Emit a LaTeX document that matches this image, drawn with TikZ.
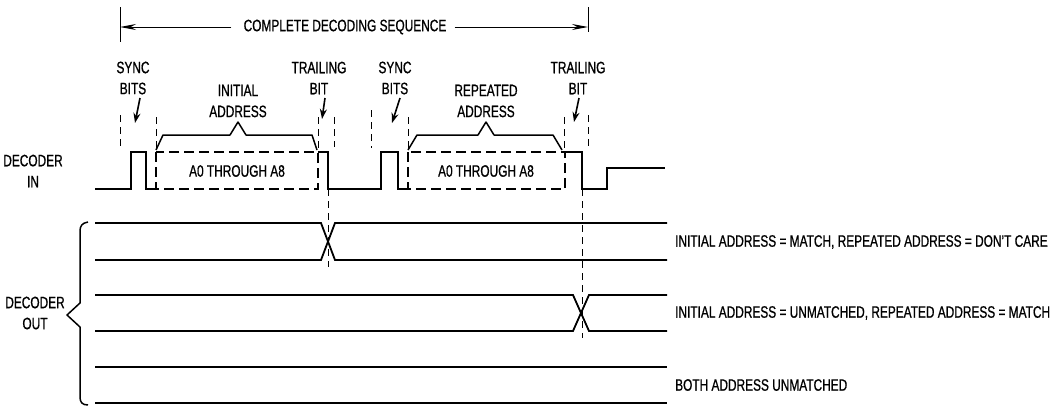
\documentclass[tikz,border=0pt]{standalone}
\usepackage{fontspec}
\setmainfont[FakeStretch=0.72,FakeBold=0.8]{Liberation Sans}
\usetikzlibrary{arrows.meta}
\begin{document}
\begin{tikzpicture}[x=1pt,y=-1pt,
  lbl/.style={font=\fontsize{16.5}{21}\selectfont, inner sep=0pt, align=center},
  sig/.style={line width=2.4pt, line join=miter},
  outl/.style={line width=1.8pt, line join=miter},
  guide/.style={line width=0.9pt, dash pattern=on 7pt off 5pt},
  dbox/.style={line width=2.4pt, dash pattern=on 10pt off 5pt},
  brc/.style={line width=1.5pt, line join=round},
  tip/.style={-{Stealth[length=10pt,width=7pt]}, line width=1.6pt},
  bar/.style={line width=1pt},
  bartip/.style={bar, -{Stealth[length=16pt,width=6pt]}}
]
\useasboundingbox (0,0) rectangle (1055,407);

% ---------- complete decoding sequence ----------
\coordinate (barL) at (120,27);
\coordinate (barR) at (588,27);
\draw[bar] (120,7) -- (120,42);
\draw[bar] (588,7) -- (588,32);
\node[lbl] (cds) at (345,27) {COMPLETE DECODING SEQUENCE};
\draw[bartip] ([xshift=-12pt]cds.west) -- (barL);
\draw[bartip] ([xshift=8pt]cds.east) -- (barR);

% ---------- labels ----------
\node[lbl] (sync1) at (133,78) {SYNC\\BITS};
\node[lbl] (init) at (238,101) {INITIAL\\ADDRESS};
\node[lbl] (trail1) at (319,78) {TRAILING\\BIT};
\node[lbl] (sync2) at (395,78) {SYNC\\BITS};
\node[lbl] (rep) at (486,101) {REPEATED\\ADDRESS};
\node[lbl] (trail2) at (578,78) {TRAILING\\BIT};
\node[lbl] (din) at (33,171) {DECODER\\IN};
\node[lbl] (dout) at (35,313) {DECODER\\OUT};
\node[lbl, anchor=west] (res1) at (675,242) {INITIAL ADDRESS = MATCH, REPEATED ADDRESS = DON'T CARE};
\node[lbl, anchor=west] (res2) at (675,313) {INITIAL ADDRESS = UNMATCHED, REPEATED ADDRESS = MATCH};
\node[lbl, anchor=west] (res3) at (675,385) {BOTH ADDRESS UNMATCHED};

% ---------- pointer arrows ----------
\coordinate (s1a) at (140,98);  \coordinate (s1b) at (135,123);
\coordinate (t1a) at (325,98);  \coordinate (t1b) at (322,119);
\coordinate (s2a) at (400,98);  \coordinate (s2b) at (392,123);
\coordinate (t2a) at (579,98);  \coordinate (t2b) at (574,122);
\draw[tip] (s1a) -- (s1b);
\draw[tip] (t1a) -- (t1b);
\draw[tip] (s2a) -- (s2b);
\draw[tip] (t2a) -- (t2b);

% ---------- guide lines ----------
\draw[guide] (120,115) -- (120,148);
\draw[guide] (156,117) -- (156,152);
\draw[guide] (318,117) -- (318,152);
\draw[guide] (334,117) -- (334,147);
\draw[guide] (371,110) -- (371,148);
\draw[guide] (408,117) -- (408,152);
\draw[guide] (564,117) -- (564,152);
\draw[guide] (588,115) -- (588,148);
\draw[guide] (328,189) -- (328,267);
\draw[guide] (582,189) -- (582,338);

% ---------- braces over addresses ----------
\draw[brc] (156,150) -- (163,135) -- (230,135) -- (238,122) -- (246,135) -- (312,135) -- (317,150);
\draw[brc] (408,150) -- (417,135) -- (478,135) -- (486,122) -- (494,135) -- (553,135) -- (562,150);

% ---------- decoder in ----------
\draw[sig] (95,189) -- (131,189) -- (131,152) -- (146,152) -- (146,189) -- (156,189);
\draw[dbox] (156,152) rectangle (318,189);
\node[lbl] (a1) at (237,171) {A0 THROUGH A8};
\draw[sig] (318,152) -- (328,152) -- (328,189) -- (381,189) -- (381,152) -- (398,152) -- (398,189) -- (408,189);
\draw[dbox] (408,152) rectangle (565,189);
\node[lbl] (a2) at (486,171) {A0 THROUGH A8};
\draw[sig] (565,152) -- (582,152) -- (582,189) -- (607,189) -- (607,168) -- (665,168);

% ---------- decoder out ----------
\draw[outl] (95,223) -- (321,223) -- (335,260) -- (667,260);
\draw[outl] (95,260) -- (321,260) -- (335,223) -- (667,223);
\draw[outl] (95,295) -- (573,295) -- (589,331) -- (667,331);
\draw[outl] (95,331) -- (573,331) -- (589,295) -- (667,295);
\draw[outl] (95,367) -- (667,367);
\draw[outl] (95,403) -- (667,403);

% ---------- brace for decoder out ----------
\draw[brc] (88,222) .. controls (82,223) and (80,226) .. (80,231) -- (80,303) -- (67,315) -- (80,327) -- (80,397) .. controls (80,402) and (82,405) .. (88,405);
\end{tikzpicture}
\end{document}
